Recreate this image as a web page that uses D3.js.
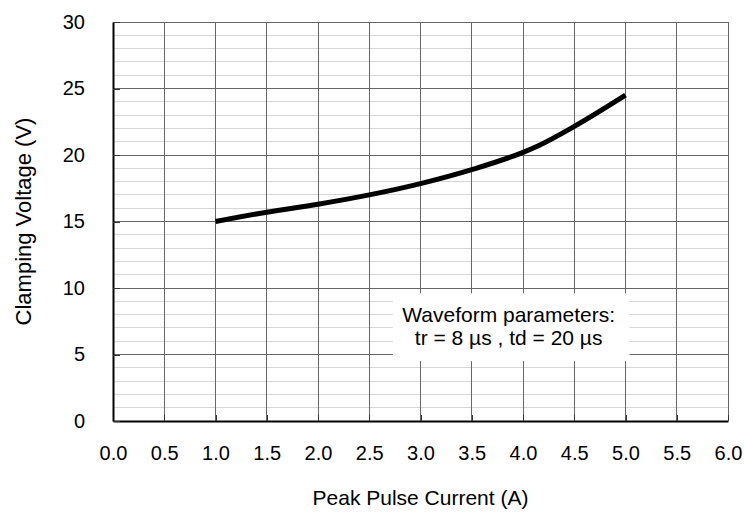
<!DOCTYPE html>
<html>
<head>
<meta charset="utf-8">
<style>
  body { margin: 0; background: #fff; }
  svg { font-family: "Liberation Sans", Arial, sans-serif; }
</style>
<title>Clamping Voltage</title>
</head>
<body>
<script src="https://cdn.jsdelivr.net/npm/d3@7"></script>
<script>

// values
var currentA = [1.0, 1.5, 2.0, 2.5, 3.0, 3.5, 4.0, 4.15, 4.5, 5.0];
var clampV   = [15.0, 15.7, 16.3, 17.0, 17.85, 18.9, 20.2, 20.7, 22.15, 24.5];
var xTicks = [0, 0.5, 1, 1.5, 2, 2.5, 3, 3.5, 4, 4.5, 5, 5.5, 6];
var yTicks = [0, 5, 10, 15, 20, 25, 30];
var yMinor = d3.range(0, 31, 1);
var noteLines = ["Waveform parameters:", "tr = 8 \u00b5s , td = 20 \u00b5s"];

var width = 744, height = 513;
var margin = {top: 22, right: 16, bottom: 92, left: 113};
var w = width - margin.left - margin.right,
    h = height - margin.top - margin.bottom;

var svg = d3.select("body").append("svg")
  .attr("width", width)
  .attr("height", height);

var g = svg.append("g").attr("transform", "translate(" + margin.left + "," + margin.top + ")");

var x = d3.scaleLinear().domain([0, 6]).range([0, w]);
var y = d3.scaleLinear().domain([0, 30]).range([h, 0]);

// minor horizontal grid
g.append("g").selectAll("line")
  .data(yMinor.filter(function(d) { return d % 5 != 0; }))
  .enter().append("line")
  .attr("x1", 0).attr("x2", w)
  .attr("y1", function(d) { return y(d); })
  .attr("y2", function(d) { return y(d); })
  .attr("stroke", "#d6d6d6")
  .attr("shape-rendering", "crispEdges");

// major horizontal grid
g.append("g").selectAll("line")
  .data(yTicks)
  .enter().append("line")
  .attr("x1", 0).attr("x2", w)
  .attr("y1", function(d) { return y(d); })
  .attr("y2", function(d) { return y(d); })
  .attr("stroke", "#666")
  .attr("shape-rendering", "crispEdges");

// vertical grid
g.append("g").selectAll("line")
  .data(xTicks)
  .enter().append("line")
  .attr("y1", 0).attr("y2", h)
  .attr("x1", function(d) { return x(d); })
  .attr("x2", function(d) { return x(d); })
  .attr("stroke", "#666")
  .attr("shape-rendering", "crispEdges");

// note box (covers grid)
var note = g.append("g");
note.append("rect")
  .attr("x", x(2.73)).attr("width", x(5.04) - x(2.73))
  .attr("y", y(9.6)).attr("height", y(4.5) - y(9.6))
  .attr("fill", "#fff");
note.selectAll("text")
  .data(noteLines)
  .enter().append("text")
  .attr("x", x(3.86))
  .attr("y", function(d, i) { return y(7.48) + i * 23; })
  .attr("text-anchor", "middle")
  .attr("font-size", 21)
  .attr("fill", "#000")
  .text(function(d) { return d; });

// axes
var xAxis = g.append("g")
  .attr("transform", "translate(0," + h + ")")
  .call(d3.axisBottom(x).tickValues(xTicks).tickSizeInner(-6).tickSizeOuter(0).tickPadding(25)
    .tickFormat(d3.format(".1f")));
var yAxis = g.append("g")
  .call(d3.axisLeft(y).tickValues(yTicks).tickSizeInner(-7).tickSizeOuter(0).tickPadding(28));

[xAxis, yAxis].forEach(function(a) {
  a.select(".domain").attr("stroke", "#000").attr("stroke-width", 2);
  a.selectAll(".tick line").attr("stroke", "#333").attr("shape-rendering", "crispEdges");
  a.selectAll(".tick text").attr("font-size", 20).attr("fill", "#000")
    .attr("font-family", "'Liberation Sans', Arial, sans-serif");
});

// the curve
var pts = currentA.map(function(d, i) { return [d, clampV[i]]; });
g.append("path")
  .datum(pts)
  .attr("fill", "none")
  .attr("stroke", "#000")
  .attr("stroke-width", 5)
  .attr("stroke-linecap", "butt")
  .attr("d", d3.line()
    .x(function(d) { return x(d[0]); })
    .y(function(d) { return y(d[1]); })
    .curve(d3.curveMonotoneX));

// axis titles
svg.append("text")
  .attr("x", margin.left + w / 2)
  .attr("y", 505)
  .attr("text-anchor", "middle")
  .attr("font-size", 21)
  .text("Peak Pulse Current (A)");

svg.append("text")
  .attr("transform", "translate(31," + (margin.top + h / 2) + ") rotate(-90)")
  .attr("text-anchor", "middle")
  .attr("font-size", 22)
  .text("Clamping Voltage (V)");

</script>
</body>
</html>
